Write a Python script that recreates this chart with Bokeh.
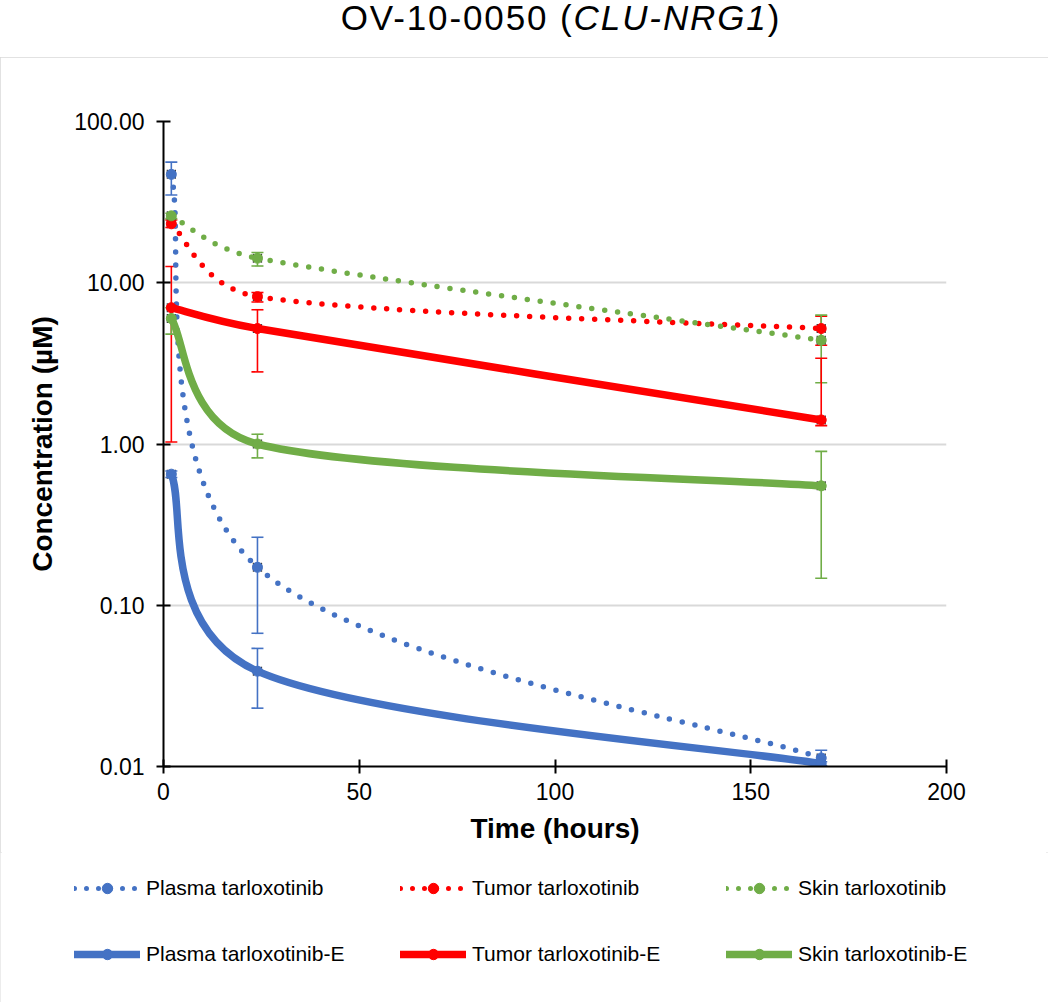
import math
from bokeh.plotting import figure
from bokeh.models import (Range1d, FixedTicker, PrintfTickFormatter, Whisker, TeeHead,
                          ColumnDataSource, Legend, LegendItem, Div)
from bokeh.layouts import column
from bokeh.embed import file_html
from bokeh.resources import INLINE

# ---------------- data ----------------
times = [2, 24, 168]
time_err = [1.0, 1.0, 1.0]

plasma_t = [47.0, 0.172, 0.0113]
plasma_t_lo = [35.0, 0.067, 0.0101]
plasma_t_hi = [56.0, 0.264, 0.0126]

tumor_t = [23.2, 8.2, 5.2]
tumor_t_lo = [22.0, 7.6, 4.1]
tumor_t_hi = [24.5, 8.7, 6.2]

skin_t = [26.0, 14.2, 4.4]
skin_t_lo = [25.0, 12.7, 2.4]
skin_t_hi = [27.0, 15.4, 6.3]

plasma_e = [0.65, 0.039, 0.0104]
plasma_e_lo = [0.62, 0.023, 0.0100]
plasma_e_hi = [0.68, 0.054, 0.0107]

tumor_e = [7.0, 5.2, 1.41]
tumor_e_lo = [1.03, 2.8, 1.3]
tumor_e_hi = [12.6, 6.8, 3.4]

skin_e = [6.0, 1.0, 0.55]
skin_e_lo = [4.8, 0.82, 0.147]
skin_e_hi = [7.0, 1.15, 0.9]

series_names = ["Plasma tarloxotinib", "Tumor tarloxotinib", "Skin tarloxotinib",
                "Plasma tarloxotinib-E", "Tumor tarloxotinib-E", "Skin tarloxotinib-E"]
x_ticks = [0, 50, 100, 150, 200]
y_ticks = [0.01, 0.1, 1, 10, 100]
title_text = 'OV-10-0050 (<i>CLU-NRG1</i>)'
x_title = "Time (hours)"
y_title = "Concentration (µM)"

BLUE, RED, GREEN = "#4472C4", "#FF0000", "#70AD47"

series = [
    (plasma_t, plasma_t_lo, plasma_t_hi, BLUE, True),
    (tumor_t, tumor_t_lo, tumor_t_hi, RED, True),
    (skin_t, skin_t_lo, skin_t_hi, GREEN, True),
    (plasma_e, plasma_e_lo, plasma_e_hi, BLUE, False),
    (tumor_e, tumor_e_lo, tumor_e_hi, RED, False),
    (skin_e, skin_e_lo, skin_e_hi, GREEN, False),
]

# ---------------- figure ----------------
TOTAL_W = 1048
FW, FH = 783, 645
XMIN, XMAX = 0, 200
YMIN, YMAX = 0.01, 100
SX = FW / (XMAX - XMIN)
SY = FH / (math.log10(YMAX) - math.log10(YMIN))


def excel_smooth(xs, ys):
    """Excel-style smoothed line: cubic Bezier control points computed in screen space."""
    px = [x * SX for x in xs]
    py = [math.log10(y) * SY for y in ys]
    n = len(xs)
    out = dict(x0=[], y0=[], x1=[], y1=[], cx0=[], cy0=[], cx1=[], cy1=[])
    for i in range(n - 1):
        a = i - 1 if i > 0 else i
        d = i + 2 if i + 2 < n else i + 1
        p0 = (px[a], py[a]); p1 = (px[i], py[i]); p2 = (px[i + 1], py[i + 1]); p3 = (px[d], py[d])
        d02 = math.hypot(p2[0] - p0[0], p2[1] - p0[1])
        d12 = math.hypot(p2[0] - p1[0], p2[1] - p1[1])
        d13 = math.hypot(p3[0] - p1[0], p3[1] - p1[1])
        f0 = 1 / 6 if d02 / 6 < d12 / 2 else d12 / (2 * d02)
        f1 = 1 / 6 if d13 / 6 < d12 / 2 else d12 / (2 * d13)
        c1 = (p1[0] + (p2[0] - p0[0]) * f0, p1[1] + (p2[1] - p0[1]) * f0)
        c2 = (p2[0] - (p3[0] - p1[0]) * f1, p2[1] - (p3[1] - p1[1]) * f1)
        out["x0"].append(xs[i]); out["y0"].append(ys[i])
        out["x1"].append(xs[i + 1]); out["y1"].append(ys[i + 1])
        out["cx0"].append(c1[0] / SX); out["cy0"].append(10 ** (c1[1] / SY))
        out["cx1"].append(c2[0] / SX); out["cy1"].append(10 ** (c2[1] / SY))
    return ColumnDataSource(out)


p = figure(frame_width=FW, frame_height=FH,
           x_range=Range1d(XMIN, XMAX), y_range=Range1d(YMIN, YMAX),
           y_axis_type="log", output_backend="svg", toolbar_location=None,
           min_border_left=163, min_border_right=TOTAL_W - 163 - FW,
           min_border_top=64, min_border_bottom=86,
           background_fill_color="white", border_fill_color="white")
p.outline_line_color = None
p.frame_align = False

FONT = "Liberation Sans"
for ax in (p.xaxis[0], p.yaxis[0]):
    ax.axis_line_color = "black"
    ax.axis_line_width = 2
    ax.major_tick_line_color = "black"
    ax.major_tick_line_width = 2
    ax.major_tick_in = 7
    ax.major_tick_out = 7
    ax.minor_tick_line_color = None
    ax.major_label_text_font = FONT
    ax.major_label_text_font_size = "23px"
    ax.major_label_text_color = "black"
    ax.axis_label_text_font = FONT
    ax.axis_label_text_font_size = "28px"
    ax.axis_label_text_font_style = "bold"
    ax.axis_label_text_color = "black"

p.xaxis.ticker = FixedTicker(ticks=x_ticks)
p.yaxis.ticker = FixedTicker(ticks=y_ticks, minor_ticks=[])
p.yaxis.formatter = PrintfTickFormatter(format="%.2f")
p.xaxis.axis_label = x_title
p.yaxis.axis_label = y_title
p.xaxis.major_label_standoff = 9
p.yaxis.major_label_standoff = 12
p.xaxis.axis_label_standoff = 10
p.yaxis.axis_label_standoff = 13

p.xgrid.visible = False
p.ygrid.grid_line_color = "#d9d9d9"
p.ygrid.grid_line_width = 2
p.ygrid.ticker = FixedTicker(ticks=y_ticks[1:])

# legend strip (second figure, same width, frame not aligned with the chart frame)
LEG_H = 150
pl = figure(width=TOTAL_W, height=LEG_H, x_range=Range1d(0, 1), y_range=Range1d(0, 1),
            output_backend="svg", toolbar_location=None, x_axis_location=None,
            y_axis_location=None, min_border=0, min_border_left=0, min_border_right=0,
            min_border_top=0, min_border_bottom=0,
            background_fill_color="white", border_fill_color="white")
pl.outline_line_color = None
pl.grid.visible = False
pl.frame_align = False

NAN = float("nan")

# ---------------- lines ----------------
drawn = []
for (vals, lo, hi, col, dotted), name in zip(series, series_names):
    src = excel_smooth(times, vals)
    if dotted:
        p.bezier(source=src, x0="x0", y0="y0", x1="x1", y1="y1", cx0="cx0", cy0="cy0",
                 cx1="cx1", cy1="cy1", line_color=col, line_width=5.5,
                 line_dash="0 13", line_cap="round")
    else:
        p.bezier(source=src, x0="x0", y0="y0", x1="x1", y1="y1", cx0="cx0", cy0="cy0",
                 cx1="cx1", cy1="cy1", line_color=col, line_width=7.5, line_cap="round")
    drawn.append((vals, lo, hi, col, dotted, name))

legend_items = []
for vals, lo, hi, col, dotted, name in drawn:
    psrc = ColumnDataSource(dict(t=times, v=vals, lo=lo, hi=hi,
                                 tl=[t - e for t, e in zip(times, time_err)],
                                 th=[t + e for t, e in zip(times, time_err)]))
    p.scatter("t", "v", source=psrc, marker="circle", size=10,
              fill_color=col, line_color=col)
    p.add_layout(Whisker(source=psrc, base="v", lower="tl", upper="th", dimension="width",
                         line_color="#404040", line_width=1.5,
                         upper_head=TeeHead(size=9, line_color="#404040", line_width=1.5),
                         lower_head=TeeHead(size=9, line_color="#404040", line_width=1.5)))
    p.add_layout(Whisker(source=psrc, base="t", lower="lo", upper="hi", dimension="height",
                         line_color=col, line_width=1.6,
                         upper_head=TeeHead(size=12, line_color=col, line_width=1.6),
                         lower_head=TeeHead(size=12, line_color=col, line_width=1.6)))
    # legend proxies (NaN points: nothing drawn in the strip itself)
    if dotted:
        lr = pl.line(x=[NAN, NAN], y=[NAN, NAN], line_color=col, line_width=5,
                     line_dash="0 12", line_cap="round")
    else:
        lr = pl.line(x=[NAN, NAN], y=[NAN, NAN], line_color=col, line_width=7.5, line_cap="round")
    mr = pl.scatter(x=[NAN], y=[NAN], marker="circle", fill_color=col, line_color=col)
    legend_items.append(LegendItem(label=name, renderers=[lr, mr]))

legend = Legend(items=legend_items, location=(74, 35), orientation="horizontal", ncols=3,
                glyph_width=66, glyph_height=26, label_height=26, label_width=214,
                label_standoff=6, spacing=40, padding=0, margin=0,
                label_text_font=FONT, label_text_font_size="21px", label_text_color="black",
                background_fill_alpha=0, border_line_alpha=0)
pl.add_layout(legend, "center")

title = Div(text='<div style="width:1048px; box-sizing:border-box; padding-left:74px; '
                 'text-align:center; font-family:\'Liberation Sans\', Arial, sans-serif; '
                 'font-size:35px; letter-spacing:1.9px; line-height:35px; color:#000; '
                 'white-space:nowrap;">' + title_text + '</div>',
            width=TOTAL_W, height=57, margin=0)

chart_box = column(p, pl, spacing=0, margin=0,
                   styles={"outline": "2px solid #d9d9d9", "outline-offset": "-2px"})
layout = column(title, chart_box, spacing=0, margin=0)
open("out.html", "w").write(file_html(layout, INLINE))
